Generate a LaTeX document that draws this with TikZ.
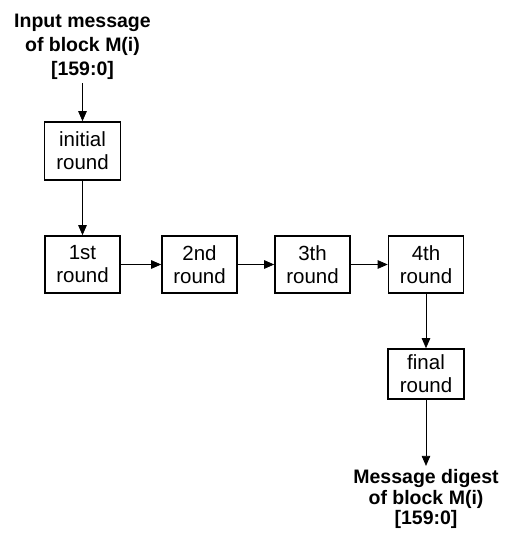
\documentclass[tikz,border=0pt]{standalone}
\usepackage{fontspec}
\setmainfont{Liberation Sans}
\usetikzlibrary{arrows.meta}

\begin{document}
\begin{tikzpicture}[
  x=1bp, y=-1bp,
  every node/.style={font=\fontsize{20.5bp}{23bp}\selectfont, align=center},
  roundbox/.style={draw, line width=1.6bp, minimum width=75bp, minimum height=57bp, inner sep=0pt},
  msg/.style={font=\bfseries\fontsize{19.5bp}{24bp}\selectfont},
  flow/.style={-{Triangle[length=10bp,width=8.5bp]}, line width=0.8bp},
]
\useasboundingbox (0,0) rectangle (507,536);
% message in, first round
\node[msg] (in) at (82.5,47) {Input message\\of block M(i)\\{[159:0]}};
\node[roundbox, minimum width=76bp, minimum height=58bp] (init) at (82.5,151) {initial\\round};
% the four rounds in a row
\foreach \i/\x/\t in {1/82.5/1st,2/199.5/2nd,3/312.5/3th,4/426/4th}
  \node[roundbox] (r\i) at (\x,264.5) {\t\\round};
% last round, digest out
\node[roundbox, minimum width=76bp, minimum height=50bp] (fin) at (426,374) {final\\round};
\node[msg, font=\bfseries\fontsize{19.5bp}{20.5bp}\selectfont] (out) at (426,499) {Message digest\\of block M(i)\\{[159:0]}};

\draw[flow] (in) -- (init);
\draw[flow] (init) -- (r1);
\foreach \i/\j in {1/2,2/3,3/4}
  \draw[flow] (r\i) -- (r\j);
\draw[flow] (r4) -- (fin);
\draw[flow] (fin) -- (out);
\end{tikzpicture}
\end{document}
